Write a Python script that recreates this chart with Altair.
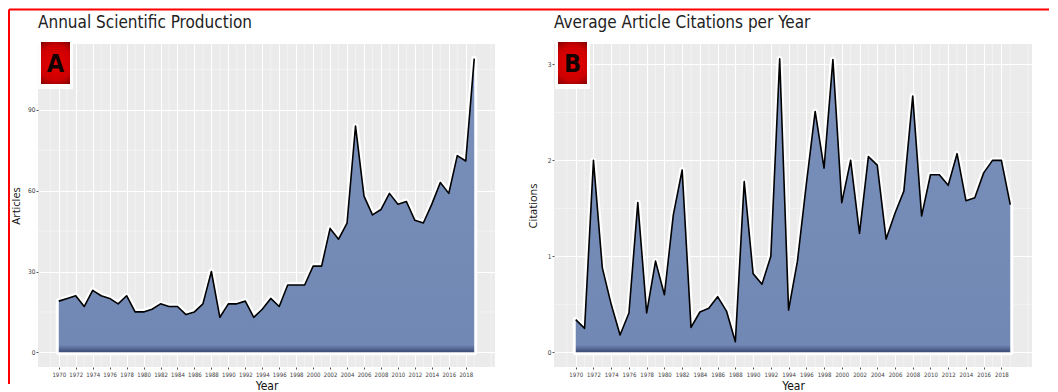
import altair as alt
import pandas as pd

# ---------------- data ----------------
years = list(range(1970, 2020))
articles = [19, 20, 21, 17, 23, 21, 20, 18, 21, 15,
            15, 16, 18, 17, 17, 14, 15, 18, 30, 13,
            18, 18, 19, 13, 16, 20, 17, 25, 25, 25,
            32, 32, 46, 42, 48, 84, 58, 51, 53, 59,
            55, 56, 49, 48, 55, 63, 59, 73, 71, 109]
citations = [0.34, 0.25, 2.00, 0.88, 0.50, 0.18, 0.41, 1.56, 0.41, 0.95,
             0.60, 1.43, 1.90, 0.26, 0.42, 0.46, 0.58, 0.43, 0.11, 1.78,
             0.82, 0.71, 1.00, 3.06, 0.44, 0.95, 1.75, 2.51, 1.92, 3.05,
             1.56, 2.00, 1.24, 2.04, 1.95, 1.18, 1.45, 1.68, 2.67, 1.42,
             1.85, 1.85, 1.74, 2.07, 1.58, 1.61, 1.87, 2.00, 2.00, 1.54]
x_ticks = list(range(1970, 2019, 2))
x_minor = list(range(1969, 2022, 2))
a_ticks = [0, 30, 60, 90]
a_minor = [15, 45, 75, 105]
c_ticks = [0, 1, 2, 3]
c_minor = [0.5, 1.5, 2.5]
titles = ["Annual Scientific Production", "Average Article Citations per Year"]
y_titles = ["Articles", "Citations"]
letters = ["A", "B"]

FILL = "#7289b5"
H = 323
NARROW = "Liberation Sans Narrow, DejaVu Sans Condensed, Arial Narrow, sans-serif"
SANS = "Open Sans, Liberation Sans, sans-serif"

area_grad = alt.Gradient(
    gradient="linear", x1=0, x2=0, y1=0, y2=1,
    stops=[alt.GradientStop(color="#7a90bb", offset=0),
           alt.GradientStop(color="#7188b4", offset=0.975),
           alt.GradientStop(color="#3a4a74", offset=1)])
box_grad = alt.Gradient(
    gradient="radial", x1=0.5, y1=0.5, x2=0.5, y2=0.5, r1=0, r2=0.75,
    stops=[alt.GradientStop(color="#e80000", offset=0),
           alt.GradientStop(color="#cc0000", offset=0.55),
           alt.GradientStop(color="#4a0000", offset=1)])


def panel(values, ytitle, ydomain, yticks, yminor, width, title, letter, box_x, border=False):
    df = pd.DataFrame({"Year": years, "v": values})
    xs = alt.Scale(domain=[1967.55, 2021.45], nice=False, zero=False)
    ys = alt.Scale(domain=ydomain, nice=False, zero=False)
    xaxis = alt.Axis(values=x_ticks, format="d", title="Year", grid=True,
                     gridColor="white", gridWidth=1.0, tickSize=2, tickColor="#555",
                     labelPadding=2, labelFontSize=6, labelColor="#3d3d3d",
                     labelFont=NARROW, domain=False, titleFont=NARROW,
                     titleFontSize=12, titleFontWeight="normal", titleColor="#111",
                     titleY=13)
    yaxis = alt.Axis(values=yticks, title=ytitle, grid=True, gridColor="white",
                     gridWidth=1.0, tickSize=2, tickColor="#555", labelPadding=1,
                     labelFontSize=6.5, labelColor="#3d3d3d", labelFont=NARROW,
                     domain=False, titleFont=SANS, titleFontSize=11,
                     titleFontWeight="normal", titleColor="#111",
                     titleX=-17 if letter == "A" else -16, titleY=H / 2)
    X = alt.X("Year:Q", scale=xs, axis=xaxis)
    Y = alt.Y("v:Q", scale=ys, axis=yaxis)

    minor_x = alt.Chart(pd.DataFrame({"Year": x_minor})).mark_rule(
        color="white", strokeWidth=0.5, opacity=0.8).encode(x=X)
    minor_y = alt.Chart(pd.DataFrame({"v": yminor})).mark_rule(
        color="white", strokeWidth=0.5, opacity=0.8).encode(y=Y)

    base = alt.Chart(df)
    halo = base.mark_area(fill=FILL, stroke="white", strokeWidth=6, strokeJoin="round").encode(x=X, y=Y)
    fill = base.mark_area(fill=area_grad).encode(x=X, y=Y)
    line = base.mark_line(color="black", strokeWidth=1.6, strokeJoin="round").encode(x=X, y=Y)

    lab = alt.Chart(pd.DataFrame({"t": [letter], "title": [title]}))
    glow = lab.mark_rect(fill="white", opacity=0.85).encode(
        x=alt.value(box_x - 3), x2=alt.value(box_x + 32), y=alt.value(-3), y2=alt.value(45))
    box = lab.mark_rect(fill=box_grad).encode(
        x=alt.value(box_x), x2=alt.value(box_x + 29), y=alt.value(-2), y2=alt.value(40))
    txt = lab.mark_text(font=NARROW, fontSize=25, fontWeight="bold", color="#140303",
                        align="center", baseline="middle").encode(
        x=alt.value(box_x + 14.5), y=alt.value(20), text="t:N")
    ttl = lab.mark_text(font=NARROW, fontSize=17, color="#222", align="left",
                        baseline="alphabetic").encode(
        x=alt.value(0), y=alt.value(-16), text="title:N")

    layers = [minor_x, minor_y, halo, fill, line, glow, box, txt, ttl]
    if border:
        b = alt.Chart(pd.DataFrame({"k": [0]}))
        top = b.mark_rule(color="#ff0000", strokeWidth=2).encode(
            x=alt.value(-29), x2=alt.value(1011), y=alt.value(-34.5))
        left = b.mark_rule(color="#ff0000", strokeWidth=2).encode(
            x=alt.value(-29), y=alt.value(-34.5), y2=alt.value(340))
        layers += [top, left]

    return alt.layer(*layers).properties(width=width, height=H)


left = panel(articles, y_titles[0], [-5.45, 114.45], a_ticks, a_minor, 457,
             titles[0], letters[0], 3, border=True)
right = panel(citations, y_titles[1], [-0.153, 3.213], c_ticks, c_minor, 478,
              titles[1], letters[1], 4)

chart = alt.hconcat(left, right, spacing=59, bounds="flush").properties(
    padding=0, background="white"
).configure_view(fill="#ebebeb", strokeWidth=0)

chart.save("out.html", embed_options={"renderer": "svg", "actions": False})
